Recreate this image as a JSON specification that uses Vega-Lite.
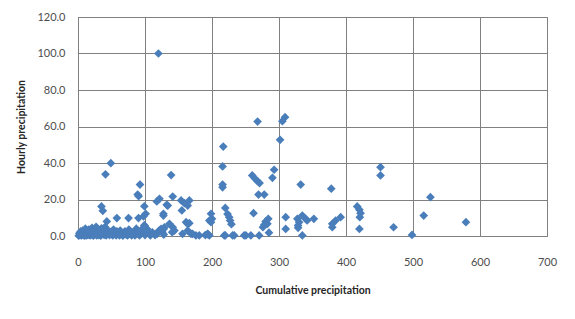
{
  "$schema": "https://vega.github.io/schema/vega-lite/v6.json",
  "width": 469,
  "height": 219,
  "autosize": {"type": "none"},
  "padding": {"left": 78, "top": 17, "right": 28, "bottom": 83},
  "background": "white",
  "config": {
    "view": {"stroke": "#808080", "strokeWidth": 1},
    "axis": {"labelFont": "Lato", "titleFont": "Lato", "gridColor": "#808080", "gridOpacity": 1, "gridWidth": 1, "domainColor": "#808080", "ticks": false, "labelColor": "#4d4d4d", "labelFontSize": 11, "titleFontSize": 10.5, "titleFontWeight": "bold", "titleColor": "#262626", "labelFlush": false, "labelOverlap": false}
  },
  "data": {"values": [
    {"x":1,"y":0.2},{"x":2,"y":1.5},{"x":3,"y":0.5},{"x":4,"y":2.5},{"x":5,"y":0.3},{"x":6,"y":1},{"x":7,"y":3},{"x":8,"y":0.5},{"x":9,"y":1.8},{"x":10,"y":0.2},
    {"x":11,"y":4},{"x":12,"y":1.2},{"x":13,"y":0.4},{"x":14,"y":2.2},{"x":15,"y":0.6},{"x":16,"y":3.5},{"x":17,"y":1},{"x":18,"y":0.3},{"x":19,"y":2.8},{"x":20,"y":0.8},
    {"x":21,"y":4.5},{"x":22,"y":1.5},{"x":23,"y":0.2},{"x":24,"y":3.2},{"x":25,"y":0.7},{"x":26,"y":2},{"x":27,"y":5},{"x":28,"y":0.4},{"x":29,"y":1.6},{"x":30,"y":3.8},
    {"x":31,"y":0.5},{"x":32,"y":2.4},{"x":33,"y":1},{"x":34,"y":0.2},{"x":35,"y":4.2},{"x":36,"y":1.3},{"x":38,"y":3.9},{"x":39,"y":0.6},{"x":40,"y":4.8},{"x":41,"y":2},
    {"x":42,"y":0.3},{"x":44,"y":1.5},{"x":45,"y":3},{"x":47,"y":0.5},{"x":48,"y":2.2},{"x":50,"y":1},{"x":52,"y":0.3},{"x":53,"y":3.5},{"x":55,"y":1.8},{"x":57,"y":0.4},
    {"x":58,"y":2.6},{"x":60,"y":1},{"x":62,"y":0.3},{"x":63,"y":3},{"x":65,"y":1.5},{"x":67,"y":0.2},{"x":70,"y":2.5},{"x":72,"y":0.8},{"x":74,"y":0.3},{"x":76,"y":3.5},
    {"x":78,"y":1.2},{"x":80,"y":0.4},{"x":83,"y":2},{"x":85,"y":0.3},{"x":87,"y":4},{"x":90,"y":1},{"x":92,"y":0.3},{"x":95,"y":2.5},{"x":97,"y":4.3},{"x":99,"y":5.8},
    {"x":100,"y":0.5},{"x":103,"y":3.9},{"x":105,"y":1.5},{"x":108,"y":0.3},{"x":111,"y":2},{"x":115,"y":0.5},{"x":118,"y":1.2},{"x":121,"y":3},{"x":124,"y":3.9},{"x":126,"y":2.1},{"x":128,"y":0.8},
    {"x":120,"y":100},
    {"x":268,"y":62.7},{"x":309,"y":65.1},{"x":305,"y":62.9},{"x":301.6,"y":52.7},
    {"x":216.8,"y":49},{"x":215.8,"y":38.1},{"x":215.8,"y":28.2},{"x":215.8,"y":26.7},
    {"x":49,"y":39.9},{"x":41,"y":33.8},{"x":139,"y":33.4},
    {"x":92.5,"y":28.2},{"x":89,"y":22.7},{"x":90.5,"y":21.8},
    {"x":260,"y":33.2},{"x":264,"y":31.5},{"x":268,"y":30},{"x":271,"y":29},
    {"x":269.4,"y":22.7},{"x":278,"y":22.7},{"x":292.7,"y":36.3},{"x":290.2,"y":31.9},
    {"x":332.4,"y":28.2},{"x":378,"y":25.9},{"x":451.5,"y":37.7},{"x":451.5,"y":33.2},
    {"x":416.7,"y":16.2},{"x":420,"y":14.4},{"x":421.7,"y":12.5},{"x":420.6,"y":10.3},
    {"x":392,"y":10.3},{"x":420,"y":3.9},{"x":471,"y":4.8},{"x":498.5,"y":0.6},{"x":516,"y":11.2},{"x":526,"y":21.3},{"x":579,"y":7.6},
    {"x":198.5,"y":12.2},{"x":200,"y":9.4},{"x":196,"y":8.5},{"x":198.5,"y":7.6},
    {"x":219.8,"y":15.4},{"x":223.2,"y":12},{"x":225.7,"y":10.3},{"x":227,"y":8.5},{"x":229,"y":6.5},
    {"x":262,"y":12.5},
    {"x":284,"y":9.4},{"x":280,"y":7.9},{"x":278,"y":6.1},{"x":276,"y":4.8},{"x":285,"y":1.8},{"x":282.7,"y":6.7},
    {"x":310,"y":10.3},{"x":310,"y":3.9},
    {"x":327.4,"y":9.4},{"x":330,"y":7.6},{"x":334.8,"y":11.2},{"x":339.8,"y":9.4},{"x":352,"y":9.4},{"x":328.4,"y":5.8},{"x":328.5,"y":4.5},{"x":334.8,"y":0.3},{"x":342,"y":8.5},
    {"x":379.5,"y":6.7},{"x":379.5,"y":4.8},{"x":384.5,"y":8.5},
    {"x":181,"y":0.3},{"x":190,"y":0.5},{"x":193.5,"y":1},{"x":219.8,"y":0.3},{"x":230.7,"y":0.3},{"x":248,"y":0.3},{"x":250.6,"y":0.3},{"x":258,"y":0.3},{"x":270.4,"y":0.3},
    {"x":176,"y":0.3},{"x":171,"y":1.2},{"x":168.7,"y":1.2},{"x":156,"y":1.2},
    {"x":35,"y":16.2},{"x":37,"y":13.8},
    {"x":58,"y":9.8},{"x":75.4,"y":9.8},{"x":90.3,"y":9.8},{"x":97.8,"y":10.8},{"x":99,"y":16.3},{"x":101,"y":12.2},
    {"x":43,"y":8},{"x":40.8,"y":4.8},{"x":38.2,"y":3.9},
    {"x":121.6,"y":20.4},{"x":117.6,"y":18.9},{"x":132.4,"y":17.1},{"x":141.4,"y":21.6},{"x":134,"y":16.7},
    {"x":153.9,"y":19.5},{"x":158.8,"y":18},{"x":163.7,"y":16.7},{"x":166.2,"y":19.5},{"x":155,"y":14},
    {"x":127.5,"y":12.2},{"x":161.3,"y":7.6},{"x":163.7,"y":6.7},{"x":166.2,"y":7},
    {"x":163.7,"y":3},{"x":136.5,"y":6.7},{"x":128,"y":3.9},{"x":121.6,"y":3},{"x":141.4,"y":4.8},{"x":143.9,"y":3},{"x":140.5,"y":2.1},
    {"x":99.3,"y":5.8},{"x":102.7,"y":3.9},{"x":127.5,"y":11.2},{"x":129,"y":4.8},
    {"x":193.5,"y":1.2},{"x":196,"y":0.3},{"x":218.3,"y":0.3},{"x":233.2,"y":0.3}
  ]},
  "mark": {"type": "point", "shape": "diamond", "filled": true, "size": 76, "color": "#4A7EBB", "opacity": 1},
  "encoding": {
    "x": {"field": "x", "type": "quantitative", "scale": {"domain": [0, 700], "nice": false},
      "axis": {"values": [0,100,200,300,400,500,600,700], "title": "Cumulative precipitation", "labelPadding": 20, "titleX": 234.5, "titleY": 54, "titleBaseline": "middle", "domain": false}},
    "y": {"field": "y", "type": "quantitative", "scale": {"domain": [0, 120], "nice": false},
      "axis": {"values": [0,20,40,60,80,100,120], "format": ".1f", "title": "Hourly precipitation", "labelPadding": 13, "titleX": -57, "titleY": 109.5, "titleBaseline": "middle", "titleAngle": -90, "titleAlign": "center", "domain": false}}
  }
}
